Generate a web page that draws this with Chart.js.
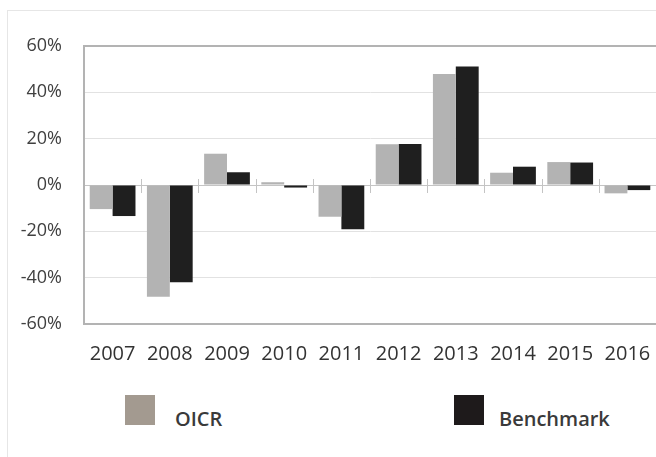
<!DOCTYPE html>
<html>
<head>
<meta charset="utf-8">
<script src="https://cdn.jsdelivr.net/npm/chart.js@4/dist/chart.umd.min.js"></script>
<style>
  html, body { margin: 0; padding: 0; background: #fff; }
  body { width: 656px; height: 457px; position: relative; overflow: hidden; }
  #frame { position: absolute; left: 7px; top: 10px; width: 660px; height: 460px;
           border-top: 1px solid #e6e6e6; border-left: 1px solid #e6e6e6; box-sizing: border-box; }
  #c { position: absolute; left: 0; top: 0; }
  .sw { position: absolute; width: 30px; height: 30px; }
  .lt { position: absolute; font-family: "Open Sans", sans-serif; font-weight: 600; font-size: 20px; color: #3a3a3a; line-height: 22px; }
</style>
</head>
<body>
<div id="frame"></div>
<canvas id="c" width="656" height="380"></canvas>
<div class="sw" id="sw0" style="left:125px; top:395px;"></div>
<div class="lt" id="lt0" style="left:175px; top:408px;"></div>
<div class="sw" id="sw1" style="left:454px; top:395px;"></div>
<div class="lt" id="lt1" style="left:499px; top:408px;"></div>
<script>
const categories = ["2007","2008","2009","2010","2011","2012","2013","2014","2015","2016"];
const seriesNames = ["OICR", "Benchmark"];
const oicr =      [-10.4, -48.2, 13.5, 1.2, -13.7, 17.6, 47.9, 5.3, 9.9, -3.6];
const benchmark = [-13.4, -42.0,  5.5, -1.1, -19.1, 17.7, 51.2, 7.9, 9.7, -2.2];
const yTicks = [-60, -40, -20, 0, 20, 40, 60];

const barColors = ["#b3b3b3", "#1f1f1f"];
const swatchColors = ["#a39a90", "#1e1a1b"];

document.getElementById('sw0').style.background = swatchColors[0];
document.getElementById('sw1').style.background = swatchColors[1];
document.getElementById('lt0').textContent = seriesNames[0];
document.getElementById('lt1').textContent = seriesNames[1];

const zeroTicks = {
  id: 'zeroTicks',
  beforeDatasetsDraw(chart) {
    const x = chart.scales.x, y = chart.scales.y;
    const ctx = chart.ctx;
    const y0 = y.getPixelForValue(0);
    ctx.save();
    ctx.strokeStyle = '#c4c4c4';
    ctx.lineWidth = 1;
    for (let i = 1; i < categories.length; i++) {
      const bx = Math.round((x.getPixelForTick(i - 1) + x.getPixelForTick(i)) / 2) + 0.5;
      ctx.beginPath();
      ctx.moveTo(bx, y0 - 6);
      ctx.lineTo(bx, y0 + 8);
      ctx.stroke();
    }
    ctx.restore();
  }
};

new Chart(document.getElementById('c'), {
  type: 'bar',
  data: {
    labels: categories,
    datasets: [
      { label: seriesNames[0], data: oicr, backgroundColor: barColors[0], categoryPercentage: 0.8, barPercentage: 1.0 },
      { label: seriesNames[1], data: benchmark, backgroundColor: barColors[1], categoryPercentage: 0.8, barPercentage: 1.0 }
    ]
  },
  options: {
    responsive: false,
    animation: false,
    devicePixelRatio: 1,
    layout: { padding: { top: 46, left: 0, right: 0, bottom: 0 } },
    plugins: { legend: { display: false }, tooltip: { enabled: false } },
    scales: {
      x: {
        grid: { display: false },
        border: { display: true, color: '#b3b3b3', width: 2 },
        ticks: { color: '#333333', font: { family: 'Open Sans', size: 20 }, padding: 10, maxRotation: 0, autoSkip: false },
        afterFit(s) { s.height = 56; s.paddingLeft = 0; s.paddingRight = 0; }
      },
      y: {
        min: -60, max: 60,
        afterBuildTicks(s) { s.ticks = yTicks.map(v => ({ value: v })); },
        grid: {
          drawTicks: false,
          color: (ctx) => {
            const v = ctx.tick && ctx.tick.value;
            if (v === 0) return '#c4c4c4';
            if (v === 60) return '#b3b3b3';
            if (v === -60) return 'rgba(0,0,0,0)';
            return '#e2e2e2';
          },
          lineWidth: (ctx) => (ctx.tick && ctx.tick.value === 60) ? 2 : 1
        },
        border: { display: true, color: '#b3b3b3', width: 2 },
        ticks: { color: '#404040', font: { family: 'Open Sans', size: 18 }, padding: 22, callback: (v) => v + '%' },
        afterFit(s) { s.width = 84; }
      }
    }
  },
  plugins: [zeroTicks]
});
</script>
</body>
</html>
